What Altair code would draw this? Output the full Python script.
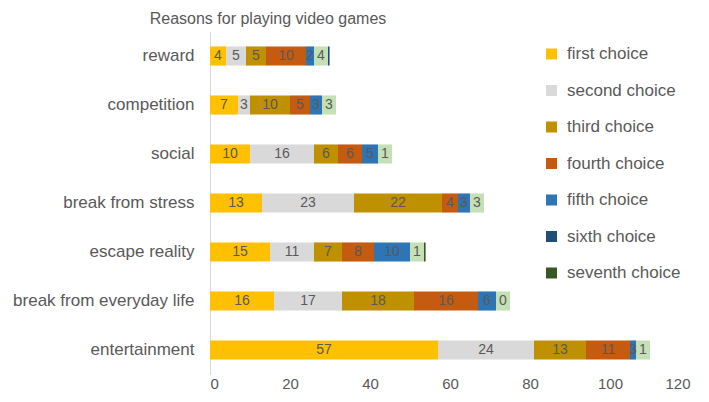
import altair as alt
import pandas as pd

reasons = ["reward", "competition", "social", "break from stress",
           "escape reality", "break from everyday life", "entertainment"]

series = ["first choice", "second choice", "third choice", "fourth choice",
          "fifth choice", "other", "sixth choice", "seventh choice"]
legend_series = ["first choice", "second choice", "third choice", "fourth choice",
                 "fifth choice", "sixth choice", "seventh choice"]
colors = ["#FFC000", "#D9D9D9", "#BF9000", "#C55A11",
          "#2E75B6", "#C5E0B4", "#1F4E79", "#385723"]

# segment widths
first = [4, 7, 10, 13, 15, 16, 57]
second = [5, 3, 16, 23, 11, 17, 24]
third = [5, 10, 6, 22, 7, 18, 13]
fourth = [10, 5, 6, 4, 8, 16, 11]
fifth = [2, 3, 4, 3, 9, 4.5, 1.5]
other = [3.5, 3.5, 3.5, 3.5, 3.5, 3.5, 3.5]
sixth = [0.4, 0, 0, 0, 0, 0, 0]
seventh = [0, 0, 0, 0, 0.4, 0, 0]

# data labels as printed on the segments
first_lbl = ["4", "7", "10", "13", "15", "16", "57"]
second_lbl = ["5", "3", "16", "23", "11", "17", "24"]
third_lbl = ["5", "10", "6", "22", "7", "18", "13"]
fourth_lbl = ["10", "5", "6", "4", "8", "16", "11"]
fifth_lbl = ["2", "3", "5", "3", "10", "6", "3"]
other_lbl = ["4", "3", "1", "3", "1", "0", "1"]
sixth_lbl = [""] * 7
seventh_lbl = [""] * 7

vals = [first, second, third, fourth, fifth, other, sixth, seventh]
lbls = [first_lbl, second_lbl, third_lbl, fourth_lbl, fifth_lbl,
        other_lbl, sixth_lbl, seventh_lbl]

rows = []
for si, s in enumerate(series):
    for ri, r in enumerate(reasons):
        v = vals[si][ri]
        if v > 0:
            rows.append({"reason": r, "series": s, "ord": si,
                         "value": v, "label": lbls[si][ri]})
df = pd.DataFrame(rows)

FONT = "Liberation Sans"
TXT = "#595959"

base = alt.Chart(df).transform_stack(
    stack="value", groupby=["reason"], as_=["x0", "x1"],
    sort=[alt.SortField("ord", order="ascending")]
).transform_calculate(mid="(datum.x0 + datum.x1) / 2")

y_enc = alt.Y("reason:N", sort=reasons, title=None,
              scale=alt.Scale(paddingInner=0.61, paddingOuter=0.305),
              axis=alt.Axis(ticks=False, domainColor="#D9D9D9", labelPadding=16,
                            labelFontSize=17, labelColor=TXT, labelFont=FONT,
                            labelLimit=300))

bars = base.mark_bar().encode(
    x=alt.X("x0:Q", title=None,
            scale=alt.Scale(domain=[0, 120], nice=False),
            axis=alt.Axis(values=[0, 20, 40, 60, 80, 100, 120], grid=False,
                          ticks=False, domain=False, labelFontSize=15,
                          labelColor=TXT, labelFont=FONT, labelPadding=2)),
    x2="x1:Q",
    y=y_enc,
    color=alt.Color("series:N",
                    scale=alt.Scale(domain=series, range=colors),
                    legend=alt.Legend(values=legend_series, title=None,
                                      orient="none", legendX=333, legendY=14,
                                      symbolType="square", symbolSize=121,
                                      symbolStrokeWidth=0,
                                      labelFontSize=17, labelColor=TXT,
                                      labelFont=FONT, labelOffset=7,
                                      rowPadding=18.5, padding=0)),
)

texts = base.transform_filter("datum.label != ''").mark_text(
    fontSize=14, color=TXT, font=FONT, baseline="middle", align="center"
).encode(
    x=alt.X("mid:Q"),
    y=alt.Y("reason:N", sort=reasons),
    text="label:N",
)

chart = alt.layer(bars, texts).properties(
    width=480, height=343,
    title=alt.TitleParams("Reasons for playing video games", fontSize=16,
                          font=FONT, color=TXT, fontWeight="normal",
                          anchor="middle", dx=-182, offset=5),
    autosize=alt.AutoSizeParams(type="none"),
    padding={"left": 202, "top": 23.5, "right": 11, "bottom": 20},
).configure_view(stroke=None)

chart.save("out.html", embed_options={"renderer": "svg", "actions": False})
